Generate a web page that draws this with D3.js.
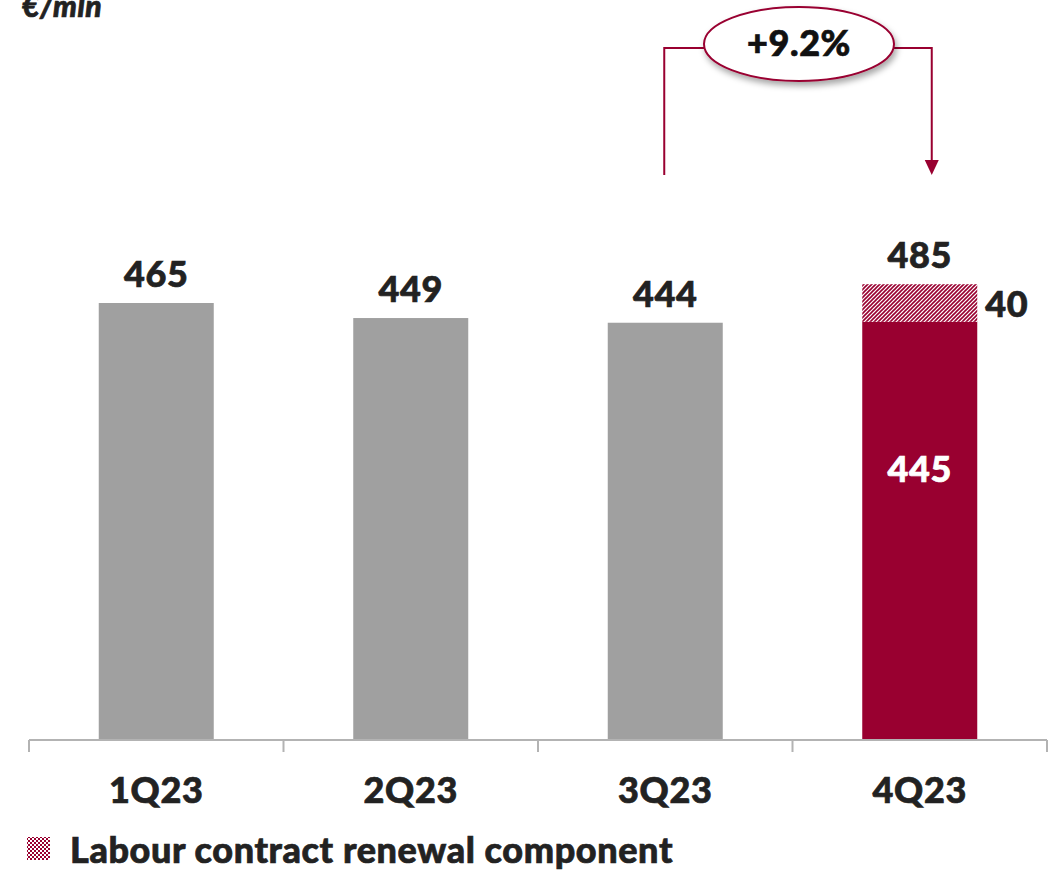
<!DOCTYPE html>
<html>
<head>
<meta charset="utf-8">
<script src="https://cdn.jsdelivr.net/npm/d3@7"></script>
<style>
  body { margin: 0; background: #fff; }
  text { font-family: Lato, "Open Sans", sans-serif; font-weight: 900; fill: #222; stroke: #222; stroke-width: 0.7px; letter-spacing: 0.6px; }
</style>
</head>
<body>
<script>
// chart data
var quarters = ["1Q23", "2Q23", "3Q23", "4Q23"];
var baseValues = [465, 449, 444, 445];
var renewalValues = [0, 0, 0, 40];
var totalLabels = ["465", "449", "444", "485"];
var growthLabel = "+9.2%";
var unitLabel = "€/mln";
var legendLabel = "Labour contract renewal component";

var width = 1059,
    height = 870;

var red = "#990030",
    grey = "#a0a0a0",
    axisGrey = "#b3b3b3";

var svg = d3.select("body").append("svg")
    .attr("width", width)
    .attr("height", height);

var defs = svg.append("defs");

// diagonal hatch for the renewal part
var hatch = defs.append("pattern")
    .attr("id", "hatch")
    .attr("patternUnits", "userSpaceOnUse")
    .attr("width", 4)
    .attr("height", 4);
hatch.append("rect").attr("width", 4).attr("height", 4).attr("fill", "#fff");
hatch.append("path")
    .attr("d", "M-1,1 l2,-2 M0,4 l4,-4 M3,5 l2,-2")
    .attr("stroke", red)
    .attr("stroke-width", 1.6);

// checker for the legend swatch
var checker = defs.append("pattern")
    .attr("id", "checker")
    .attr("patternUnits", "userSpaceOnUse")
    .attr("width", 4)
    .attr("height", 4);
checker.append("rect").attr("width", 4).attr("height", 4).attr("fill", "#fff");
checker.append("rect").attr("width", 2).attr("height", 2).attr("fill", red);
checker.append("rect").attr("x", 2).attr("y", 2).attr("width", 2).attr("height", 2).attr("fill", red);

var shadow = defs.append("filter").attr("id", "shadow")
    .attr("x", "-20%").attr("y", "-20%").attr("width", "140%").attr("height", "160%");
shadow.append("feDropShadow")
    .attr("dx", 2).attr("dy", 4).attr("stdDeviation", 3)
    .attr("flood-color", "#000").attr("flood-opacity", 0.35);

// scales
var x = d3.scaleBand()
    .domain(quarters)
    .range([29, 1047])
    .paddingInner(0)
    .paddingOuter(0);

var y = d3.scaleLinear()
    .domain([0, 465])
    .range([740, 303]);

var barW = 115;
var bx = function(q) { return x(q) + (x.bandwidth() - barW) / 2; };

var rows = quarters.map(function(q, i) {
    return { q: q, base: baseValues[i], extra: renewalValues[i], label: totalLabels[i], i: i };
});

// base bars
svg.selectAll("rect.base")
    .data(rows)
    .enter().append("rect")
    .attr("class", "base")
    .attr("x", function(d) { return bx(d.q); })
    .attr("y", function(d) { return y(d.base); })
    .attr("width", barW)
    .attr("height", function(d) { return y(0) - y(d.base); })
    .attr("fill", function(d) { return d.extra > 0 ? red : grey; });

// hatched renewal component
svg.selectAll("rect.extra")
    .data(rows.filter(function(d) { return d.extra > 0; }))
    .enter().append("rect")
    .attr("class", "extra")
    .attr("x", function(d) { return bx(d.q); })
    .attr("y", function(d) { return y(d.base + d.extra); })
    .attr("width", barW)
    .attr("height", function(d) { return y(d.base) - y(d.base + d.extra); })
    .attr("fill", "url(#hatch)");

// axis line and ticks
var axis = d3.axisBottom(x).tickSize(0).tickFormat("");
var axisG = svg.append("g").attr("transform", "translate(0,740)").call(axis);
axisG.select(".domain").attr("stroke", axisGrey).attr("stroke-width", 2).attr("d", "M29,0H1047");
var tickX = quarters.map(function(q) { return x(q); }).concat([x.range()[1]]);
axisG.selectAll("line.sep")
    .data(tickX)
    .enter().append("line")
    .attr("class", "sep")
    .attr("x1", function(d) { return d; })
    .attr("x2", function(d) { return d; })
    .attr("y1", 0)
    .attr("y2", 12)
    .attr("stroke", axisGrey)
    .attr("stroke-width", 2);

// category labels
svg.selectAll("text.cat")
    .data(quarters)
    .enter().append("text")
    .attr("class", "cat")
    .attr("x", function(q) { return x(q) + x.bandwidth() / 2; })
    .attr("y", 803)
    .attr("text-anchor", "middle")
    .style("font-size", "36px")
    .text(function(q) { return q; });

// total labels above bars
svg.selectAll("text.total")
    .data(rows)
    .enter().append("text")
    .attr("class", "total")
    .attr("x", function(d) { return bx(d.q) + barW / 2; })
    .attr("y", function(d) { return y(d.base + d.extra) - 16; })
    .attr("text-anchor", "middle")
    .style("font-size", "36px")
    .text(function(d) { return d.label; });

// value inside the red bar
svg.selectAll("text.inner")
    .data(rows.filter(function(d) { return d.extra > 0; }))
    .enter().append("text")
    .attr("class", "inner")
    .attr("x", function(d) { return bx(d.q) + barW / 2; })
    .attr("y", function(d) { return y(d.base / 2) - 49; })
    .attr("text-anchor", "middle")
    .style("font-size", "36px")
    .style("fill", "#fff")
    .style("stroke", "#fff")
    .text(function(d) { return d.base; });

// renewal value at the right of the hatch
svg.selectAll("text.extraLbl")
    .data(rows.filter(function(d) { return d.extra > 0; }))
    .enter().append("text")
    .attr("class", "extraLbl")
    .attr("x", function(d) { return bx(d.q) + barW + 8; })
    .attr("y", function(d) { return y(d.base + d.extra / 2) + 14; })
    .style("font-size", "36px")
    .text(function(d) { return d.extra; });

// growth bracket between 3Q23 and 4Q23
var xL = x("3Q23") + x.bandwidth() / 2 - 1,
    xR = x("4Q23") + x.bandwidth() / 2 + 12,
    yTop = 48,
    yBot = 175;
svg.append("path")
    .attr("d", "M" + xL + "," + yBot + "V" + yTop + "H" + xR + "V" + (yBot - 14))
    .attr("fill", "none")
    .attr("stroke", red)
    .attr("stroke-width", 2);
svg.append("path")
    .attr("d", "M" + (xR - 7) + "," + (yBot - 15) + "L" + (xR + 7) + "," + (yBot - 15) + "L" + xR + "," + yBot + "Z")
    .attr("fill", red);

svg.append("ellipse")
    .attr("cx", 799)
    .attr("cy", 44)
    .attr("rx", 95)
    .attr("ry", 37)
    .attr("fill", "#fff")
    .attr("stroke", red)
    .attr("stroke-width", 2)
    .attr("filter", "url(#shadow)");
svg.append("text")
    .attr("x", 799)
    .attr("y", 56)
    .attr("text-anchor", "middle")
    .style("font-size", "36px")
    .style("fill", "#111")
    .style("stroke", "#111")
    .text(growthLabel);

// unit label, cut at the top as in the source slide
svg.append("text")
    .attr("x", 22)
    .attr("y", 17)
    .style("font-size", "30px")
    .style("font-style", "italic")
    .text(unitLabel);

// legend
svg.append("rect")
    .attr("x", 27)
    .attr("y", 837)
    .attr("width", 23)
    .attr("height", 23)
    .attr("fill", "url(#checker)");
svg.append("text")
    .attr("x", 70)
    .attr("y", 863)
    .style("font-size", "36px")
    .text(legendLabel);
</script>
</body>
</html>
